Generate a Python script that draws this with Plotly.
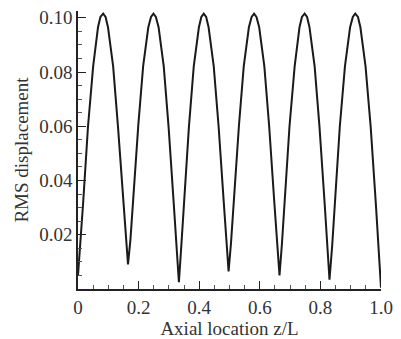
import plotly.graph_objects as go

# Axial location z/L
z_over_L = [
    0.000, 0.008, 0.017, 0.033, 0.050, 0.066, 0.074, 0.083, 0.091, 0.099, 0.116, 0.132, 0.149, 0.157, 0.165,
    0.173, 0.182, 0.199, 0.215, 0.232, 0.241, 0.249, 0.257, 0.266, 0.283, 0.299, 0.316, 0.325, 0.333,
    0.341, 0.349, 0.366, 0.382, 0.399, 0.407, 0.415, 0.423, 0.431, 0.448, 0.464, 0.481, 0.489, 0.497,
    0.505, 0.514, 0.531, 0.547, 0.564, 0.573, 0.581, 0.589, 0.598, 0.615, 0.631, 0.648, 0.657, 0.665,
    0.673, 0.682, 0.698, 0.715, 0.731, 0.739, 0.748, 0.756, 0.764, 0.781, 0.797, 0.814, 0.822, 0.830,
    0.839, 0.847, 0.864, 0.881, 0.898, 0.907, 0.915, 0.924, 0.932, 0.949, 0.966, 0.983, 0.992, 1.000,
]

# RMS displacement
rms_disp = [
    0.0050, 0.0166, 0.0318, 0.0599, 0.0821, 0.0965, 0.1003, 0.1015, 0.1003, 0.0965, 0.0821, 0.0598, 0.0327, 0.0183, 0.0091,
    0.0181, 0.0327, 0.0604, 0.0822, 0.0965, 0.1003, 0.1015, 0.1003, 0.0965, 0.0821, 0.0597, 0.0315, 0.0160, 0.0025,
    0.0160, 0.0315, 0.0597, 0.0821, 0.0965, 0.1003, 0.1015, 0.1003, 0.0965, 0.0821, 0.0600, 0.0321, 0.0171, 0.0065,
    0.0171, 0.0321, 0.0600, 0.0821, 0.0965, 0.1003, 0.1015, 0.1003, 0.0965, 0.0821, 0.0599, 0.0318, 0.0166, 0.0050,
    0.0166, 0.0318, 0.0599, 0.0821, 0.0965, 0.1003, 0.1015, 0.1003, 0.0965, 0.0821, 0.0598, 0.0316, 0.0162, 0.0034,
    0.0162, 0.0316, 0.0598, 0.0821, 0.0965, 0.1003, 0.1015, 0.1003, 0.0965, 0.0821, 0.0597, 0.0314, 0.0158, 0.0005,
]

x_tick_vals = [0, 0.2, 0.4, 0.6, 0.8, 1.0]
x_tick_text = ["0", "0.2", "0.4", "0.6", "0.8", "1.0"]
y_tick_vals = [0.02, 0.04, 0.06, 0.08, 0.10]
y_tick_text = ["0.02", "0.04", "0.06", "0.08", "0.10"]

font_family = "Liberation Serif"

fig = go.Figure()
fig.add_trace(go.Scatter(
    x=z_over_L, y=rms_disp, mode="lines",
    line=dict(color="#1a1a1a", width=2),
    showlegend=False, hoverinfo="skip",
))

fig.update_layout(
    width=401, height=339,
    margin=dict(l=78, r=15, t=8, b=47),
    paper_bgcolor="white", plot_bgcolor="white",
    font=dict(family=font_family, size=19, color="#333333"),
    xaxis=dict(
        range=[0, 1.0], tickmode="array", tickvals=x_tick_vals, ticktext=x_tick_text,
        showgrid=False, zeroline=False, showline=True, linecolor="#222222", linewidth=1.5,
        ticks="inside", ticklen=8, tickwidth=1.2, tickcolor="#222222",
        minor=dict(tickmode="linear", tick0=0, dtick=0.05, ticks="inside", ticklen=4,
                   tickwidth=1, tickcolor="#555555"),
        title=dict(text="Axial location z/L", standoff=0, font=dict(size=19)),
        tickfont=dict(size=19), fixedrange=True,
    ),
    yaxis=dict(
        range=[0, 0.1025], tickmode="array", tickvals=y_tick_vals, ticktext=y_tick_text,
        showgrid=False, zeroline=False, showline=True, linecolor="#222222", linewidth=1.5,
        ticks="inside", ticklen=8, tickwidth=1.2, tickcolor="#222222",
        minor=dict(tickmode="linear", tick0=0, dtick=0.005, ticks="inside", ticklen=4,
                   tickwidth=1, tickcolor="#555555"),
        title=dict(text="RMS displacement", standoff=6, font=dict(size=19)),
        tickfont=dict(size=19), fixedrange=True,
    ),
)

fig.write_html("out.html")
